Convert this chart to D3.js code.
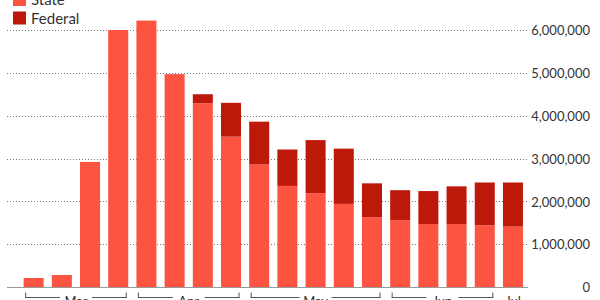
<!DOCTYPE html>
<html>
<head>
<meta charset="utf-8">
<script src="https://cdn.jsdelivr.net/npm/d3@7/dist/d3.min.js"></script>
<style>
  html, body { margin: 0; padding: 0; background: #fff; }
  svg { display: block; font-family: Lato, "Open Sans", sans-serif; }
</style>
</head>
<body>
<svg id="chart" width="600" height="300"></svg>
<script>
// ---- Data ----
const weeks = ["2020-03-07","2020-03-14","2020-03-21","2020-03-28",
               "2020-04-04","2020-04-11","2020-04-18","2020-04-25",
               "2020-05-02","2020-05-09","2020-05-16","2020-05-23","2020-05-30",
               "2020-06-06","2020-06-13","2020-06-20","2020-06-27",
               "2020-07-04"];
const stateClaims = [210000, 280000, 2920000, 6000000,
                     6220000, 4970000, 4290000, 3510000,
                     2860000, 2360000, 2190000, 1940000, 1630000,
                     1560000, 1470000, 1470000, 1440000,
                     1410000];
const federalClaims = [0, 0, 0, 0,
                       0, 0, 210000, 790000,
                       1000000, 850000, 1240000, 1290000, 790000,
                       700000, 770000, 880000, 1000000,
                       1030000];
const seriesNames = ["State", "Federal"];
const seriesColors = ["#fd5341", "#bd190b"];
const yTicks = [0, 1000000, 2000000, 3000000, 4000000, 5000000, 6000000];
const monthLabels = ["Mar", "Apr", "May", "Jun", "Jul"];

// ---- Build ----
const parse = d3.timeParse("%Y-%m-%d");
const rows = weeks.map((w, i) => ({ week: w, date: parse(w), State: stateClaims[i], Federal: federalClaims[i] }));
const stacked = d3.stack().keys(seriesNames)(rows);

const svg = d3.select("#chart");
const plotLeft = 7, plotRight = 528;

const x = d3.scaleBand().domain(weeks).range([18, 528.6]).paddingInner(0.29).paddingOuter(0.2);
const y = d3.scaleLinear().domain([0, 6000000]).range([287, 30]);
const color = d3.scaleOrdinal().domain(seriesNames).range(seriesColors);

// gridlines
svg.append("g").selectAll("line")
  .data(yTicks.filter(d => d > 0))
  .join("line")
  .attr("x1", plotLeft).attr("x2", plotRight)
  .attr("y1", d => Math.round(y(d)) + 0.5).attr("y2", d => Math.round(y(d)) + 0.5)
  .attr("stroke", "#777").attr("stroke-width", 1)
  .attr("stroke-dasharray", "1,2");

// y-axis on right
const yAxis = d3.axisRight(y).tickValues(yTicks).tickSize(0).tickPadding(0)
  .tickFormat(d3.format(","));
const gy = svg.append("g").attr("transform", "translate(590,0)").call(yAxis);
gy.select(".domain").remove();
gy.selectAll("text")
  .attr("text-anchor", "end").attr("x", 0).attr("dy", "0.36em")
  .attr("fill", "#333").style("font-size", "13px").style("font-family", "Lato, sans-serif");

// bars
svg.append("g").selectAll("g")
  .data(stacked)
  .join("g")
  .attr("fill", d => color(d.key))
  .selectAll("rect")
  .data(d => d)
  .join("rect")
  .attr("x", d => x(d.data.week))
  .attr("width", x.bandwidth())
  .attr("y", d => y(d[1]))
  .attr("height", d => Math.max(0, y(d[0]) - y(d[1])));

// baseline
svg.append("line")
  .attr("x1", plotLeft).attr("x2", plotRight)
  .attr("y1", y(0) + 0.5).attr("y2", y(0) + 0.5)
  .attr("stroke", "#999").attr("stroke-width", 1);

// month brackets
const monthFmt = d3.timeFormat("%b");
const groups = monthLabels.map(m => {
  const ws = rows.filter(r => monthFmt(r.date) === m).map(r => r.week);
  const x0 = x(ws[0]) + 1.5;
  const x1 = x(ws[ws.length - 1]) + x.bandwidth() - 1.5;
  return { m, x0, x1 };
});
const by = 297.5;
const mg = svg.append("g");
groups.forEach(g => {
  const cx = (g.x0 + g.x1) / 2;
  const tw = g.m.length * 8 + 4;
  const gg = mg.append("g");
  if (g.x1 - g.x0 > tw + 10) {
    gg.append("line").attr("x1", g.x0).attr("x2", cx - tw / 2 - 2).attr("y1", by).attr("y2", by);
    gg.append("line").attr("x1", cx + tw / 2 + 2).attr("x2", g.x1).attr("y1", by).attr("y2", by);
    gg.append("line").attr("x1", g.x0 + 0.5).attr("x2", g.x0 + 0.5).attr("y1", by - 5).attr("y2", by + 0.5);
    gg.append("line").attr("x1", g.x1 - 0.5).attr("x2", g.x1 - 0.5).attr("y1", by - 5).attr("y2", by + 0.5);
  }
  gg.selectAll("line").attr("stroke", "#555").attr("stroke-width", 1);
  gg.append("text").attr("x", cx).attr("y", 306)
    .attr("text-anchor", "middle").attr("fill", "#333")
    .style("font-size", "13px").text(g.m);
});

// legend
const legend = svg.append("g");
seriesNames.forEach((s, i) => {
  const ly = -7 + i * 18.5;
  legend.append("rect").attr("x", 13).attr("y", ly).attr("width", 13).attr("height", 13).attr("fill", color(s));
  legend.append("text").attr("x", 31).attr("y", ly + 12)
    .attr("fill", "#333").style("font-size", "15px").text(s);
});
</script>
</body>
</html>
